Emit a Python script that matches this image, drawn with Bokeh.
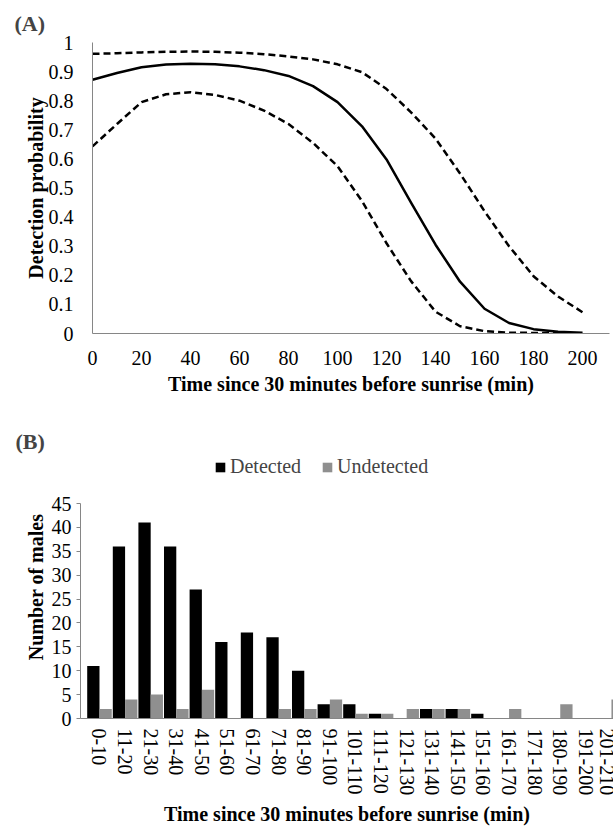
import numpy as np
from bokeh.plotting import figure
from bokeh.layouts import column, row
from bokeh.models import FixedTicker, Range1d, Legend, LegendItem
from bokeh.embed import file_html
from bokeh.resources import INLINE

FONT = "Liberation Serif"
AXIS_COLOR = "#868686"

# ---------------- Panel A data ----------------
time_min = [0, 10, 20, 30, 40, 50, 60, 70, 80, 90, 100, 110, 120, 130, 140, 150, 160, 170, 180, 190, 200]
prob_mean = [0.872, 0.895, 0.915, 0.924, 0.927, 0.925, 0.918, 0.905, 0.885, 0.85, 0.795, 0.712, 0.598,
             0.45, 0.305, 0.178, 0.085, 0.036, 0.015, 0.006, 0.003]
prob_upper = [0.961, 0.963, 0.966, 0.968, 0.969, 0.968, 0.965, 0.96, 0.952, 0.942, 0.925, 0.898, 0.84,
              0.76, 0.67, 0.55, 0.42, 0.30, 0.197, 0.127, 0.073]
prob_lower = [0.643, 0.72, 0.795, 0.822, 0.829, 0.82, 0.80, 0.766, 0.72, 0.655, 0.575, 0.455, 0.31,
              0.18, 0.075, 0.025, 0.008, 0.003, 0.002, 0.001, 0.001]
x_ticks_A = [0, 20, 40, 60, 80, 100, 120, 140, 160, 180, 200]
y_ticks_A = [0, 0.1, 0.2, 0.3, 0.4, 0.5, 0.6, 0.7, 0.8, 0.9, 1]
y_labels_A = ["0", "0.1", "0.2", "0.3", "0.4", "0.5", "0.6", "0.7", "0.8", "0.9", "1"]

# ---------------- Panel B data ----------------
categories = ["0-10", "11-20", "21-30", "31-40", "41-50", "51-60", "61-70", "71-80", "81-90",
              "91-100", "101-110", "111-120", "121-130", "131-140", "141-150", "151-160",
              "161-170", "171-180", "180-190", "191-200", "201-210"]
detected = [11, 36, 41, 36, 27, 16, 18, 17, 10, 3, 3, 1, 0, 2, 2, 1, 0, 0, 0, 0, 0]
undetected = [2, 4, 5, 2, 6, 0, 0, 2, 2, 4, 1, 1, 2, 2, 2, 0, 2, 0, 3, 0, 4]
y_ticks_B = [0, 5, 10, 15, 20, 25, 30, 35, 40, 45]

W = 613


def style_axes(p):
    for ax in (p.xaxis[0], p.yaxis[0]):
        ax.axis_line_color = AXIS_COLOR
        ax.axis_line_width = 1
        ax.major_tick_line_color = AXIS_COLOR
        ax.minor_tick_line_color = None
        ax.major_label_text_font = FONT
        ax.major_label_text_font_size = "20px"
        ax.major_label_text_color = "black"
        ax.axis_label_text_font = FONT
        ax.axis_label_text_font_size = "20px"
        ax.axis_label_text_font_style = "bold"
        ax.axis_label_text_color = "black"
    p.grid.visible = False
    p.outline_line_color = None
    p.title.text_font = FONT
    p.title.text_font_size = "22px"
    p.title.text_font_style = "bold"
    p.title.align = "left"


# ---------------- Panel A ----------------
pA = figure(width=W, height=400, x_range=Range1d(0, 211), y_range=Range1d(0, 1),
            output_backend="svg", toolbar_location=None, title="(A)",
            min_border_left=92, min_border_right=4, min_border_top=42, min_border_bottom=67)
style_axes(pA)
pA.title.offset = -78
pA.title.standoff = 13
pA.xaxis.ticker = FixedTicker(ticks=x_ticks_A)
pA.yaxis.ticker = FixedTicker(ticks=y_ticks_A)
pA.yaxis.major_label_overrides = {t: l for t, l in zip(y_ticks_A, y_labels_A)}
pA.xaxis.major_tick_out = 0
pA.yaxis.major_tick_out = 0
pA.xaxis.major_tick_in = 0
pA.yaxis.major_tick_in = 0
pA.xaxis.major_label_standoff = 17
pA.yaxis.major_label_standoff = 19
pA.xaxis.axis_label = "Time since 30 minutes before sunrise (min)"
pA.yaxis.axis_label = "Detection probability"
pA.xaxis.axis_label_standoff = 5
pA.yaxis.axis_label_standoff = -1

pA.line(time_min, prob_upper, line_color="black", line_width=2.5, line_dash="7 4", line_join="round")
pA.line(time_min, prob_lower, line_color="black", line_width=2.5, line_dash="7 4", line_join="round")
pA.line(time_min, prob_mean, line_color="black", line_width=2.5, line_join="round")

# ---------------- Panel B ----------------
n = len(categories)
idx = np.arange(n)
pB = figure(width=W, height=431, x_range=Range1d(-0.742, 20.08), y_range=Range1d(0, 55.05),
            output_backend="svg", toolbar_location=None, title="(B)",
            min_border_left=80, min_border_right=0, min_border_top=55, min_border_bottom=113)
style_axes(pB)
pB.title.offset = -65
pB.title.standoff = 4
r_det = pB.vbar(x=idx - 0.24, width=0.48, top=detected, bottom=0, fill_color="black", line_color=None)
r_und = pB.vbar(x=idx + 0.24, width=0.48, top=undetected, bottom=0, fill_color="#8f8f8f", line_color=None)

pB.xaxis.ticker = FixedTicker(ticks=list(range(n)))
pB.xaxis.major_label_overrides = {i: c for i, c in enumerate(categories)}
pB.xaxis.major_label_orientation = "vertical"
pB.xaxis.major_tick_out = 0
pB.xaxis.major_tick_in = 0
pB.xaxis.major_label_standoff = 10
pB.yaxis.ticker = FixedTicker(ticks=y_ticks_B)
pB.yaxis.bounds = (0, 45)
pB.yaxis.major_tick_out = 4
pB.yaxis.major_tick_in = 0
pB.yaxis.major_label_standoff = 5
pB.xaxis.axis_label = "Time since 30 minutes before sunrise (min)"
pB.yaxis.axis_label = "Number of males"
pB.xaxis.axis_label_standoff = 5
pB.yaxis.axis_label_standoff = 2

legend = Legend(items=[LegendItem(label="Detected", renderers=[r_det]),
                       LegendItem(label="Undetected", renderers=[r_und])],
                orientation="horizontal", location=(134, 240),
                glyph_width=12, glyph_height=12, label_standoff=4, spacing=20,
                padding=0, margin=0, label_height=20,
                label_text_font=FONT, label_text_font_size="20px",
                background_fill_alpha=0, border_line_alpha=0)
pB.add_layout(legend)

layout = column(row(pA), row(pB), spacing=0)
open("out.html", "w").write(file_html(layout, INLINE))
